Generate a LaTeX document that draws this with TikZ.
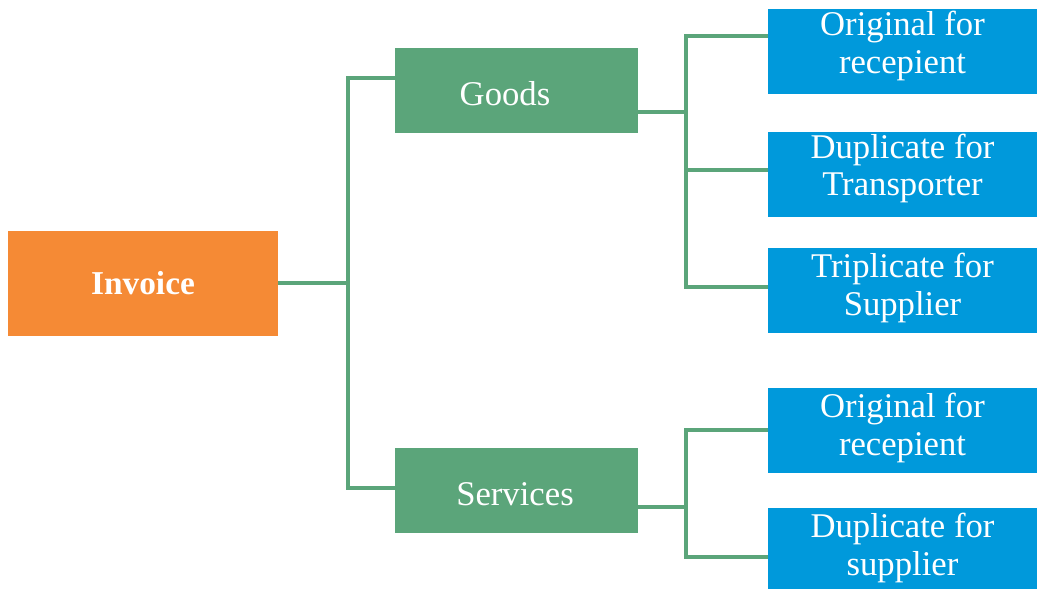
\documentclass[tikz,border=0pt]{standalone}
\usepackage{fontspec}
\setmainfont{Liberation Serif}
\definecolor{gorange}{HTML}{F58A35}
\definecolor{ggreen}{HTML}{5BA57A}
\definecolor{gblue}{HTML}{0099DB}
\begin{document}
\begin{tikzpicture}[x=0.75pt,y=-0.75pt,
  box/.style={draw=none,minimum width=#1,inner sep=0pt,align=center,text=white,font=\fontsize{26}{28}\selectfont},
  rootbox/.style={box=270*0.75pt,fill=gorange,minimum height=105*0.75pt,font=\fontsize{25}{28}\selectfont\bfseries},
  midbox/.style={box=243*0.75pt,fill=ggreen,minimum height=85*0.75pt},
  leafbox/.style={box=269*0.75pt,fill=gblue,minimum height=85*0.75pt},
  lbl/.style={text=white,inner sep=0pt,align=center,font=\fontsize{26}{28}\selectfont},
  link/.style={ggreen,line width=3pt}]
\useasboundingbox (0,0) rectangle (1037,588);
\node[rootbox] (inv) at (143,283) {Invoice};
\node[midbox] (goods) at (516.5,90.5) {};
\node[lbl] (goodst) at (505,94) {Goods};
\node[midbox] (serv) at (516.5,490.5) {};
\node[lbl] (servt) at (515,494) {Services};
\node[leafbox] (l1) at (902.5,52) {};
\node[lbl] (l1t) at (902.5,46) {Original for\\recepient};
\node[leafbox] (l2) at (902.5,174.5) {};
\node[lbl] (l2t) at (902.5,168.5) {Duplicate for\\Transporter};
\node[leafbox] (l3) at (902.5,290.5) {};
\node[lbl] (l3t) at (902.5,288) {Triplicate for\\Supplier};
\node[leafbox] (l4) at (902.5,430.5) {};
\node[lbl] (l4t) at (902.5,428) {Original for\\recepient};
\node[leafbox,minimum height=82*0.75pt] (l5) at (902.5,549) {};
\node[lbl] (l5t) at (902.5,548) {Duplicate for\\supplier};
% connectors
\coordinate (j0) at (348,283);
\draw[link] (inv.east) -- (j0);
\draw[link] (goods.west|-0,78) -- (348,78) -- (348,488) -- (serv.west|-0,488);
\coordinate (jg) at (686,112);
\draw[link] (goods.east|-jg) -- (jg);
\draw[link] (l1.west|-0,36) -- (686,36) -- (686,287) -- (l3.west|-0,287);
\draw[link] (686,170) -- (l2.west|-0,170);
\coordinate (js) at (686,507);
\draw[link] (serv.east|-js) -- (js);
\draw[link] (l4.west|-0,430) -- (686,430) -- (686,557) -- (l5.west|-0,557);
\end{tikzpicture}
\end{document}
